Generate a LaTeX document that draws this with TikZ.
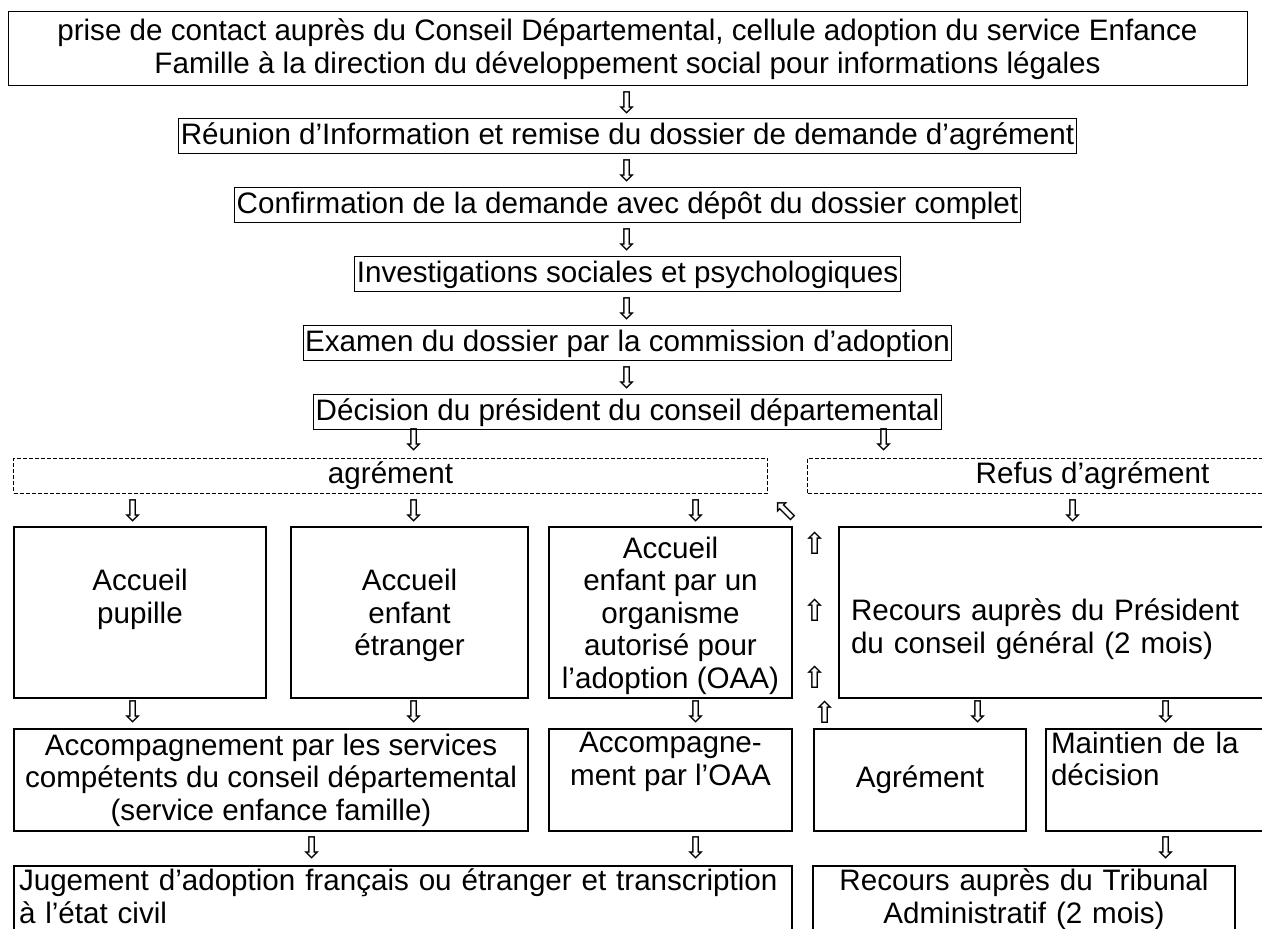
\documentclass[tikz,border=0pt]{standalone}
\usepackage{fontspec}
\setmainfont{Liberation Sans}
\newfontfamily\arrowfont{DejaVu Sans}
\usetikzlibrary{positioning,calc}

\tikzset{
    stage/.style={draw, line width=0.5pt, align=center, inner xsep=1pt, inner ysep=0pt, minimum height=17.5pt},
    cell/.style={draw, line width=1pt, anchor=north west, inner xsep=3pt, inner ysep=0pt},
    outcome/.style={draw, dashed, dash pattern=on 2pt off 1pt, line width=0.5pt, anchor=north west, minimum height=17.5pt, inner sep=0pt},
    glyph/.style={font=\arrowfont\fontsize{15}{15}\selectfont, inner sep=0pt},
}

\begin{document}
\begin{tikzpicture}[x=0.5pt, y=-0.5pt, font=\fontsize{14.8pt}{16.2pt}\selectfont]
            \useasboundingbox (0,0) rectangle (1262,929);
            \clip (0,0) rectangle (1262,929);

            \node [stage, minimum width=619.5pt, minimum height=37pt] (contact) at (627.5,49) {prise de contact auprès du Conseil Départemental, cellule adoption du service Enfance\\Famille à la direction du développement social pour informations légales};
            \node [stage, below=16pt of contact] (reunion) {Réunion d’Information et remise du dossier de demande d’agrément};
            \node [stage, below=16.5pt of reunion] (confirm) {Confirmation de la demande avec dépôt du dossier complet};
            \node [stage, below=16.5pt of confirm] (enquete) {Investigations sociales et psychologiques};
            \node [stage, below=16.5pt of enquete] (examen) {Examen du dossier par la commission d’adoption};
            \node [stage, below=16.5pt of examen] (decision) {Décision du président du conseil départemental};

            \node [glyph] (d1) at ($(contact.south)!.5!(reunion.north)$) {⇩};
            \node [glyph] (d2) at ($(reunion.south)!.5!(confirm.north)$) {⇩};
            \node [glyph] (d3) at ($(confirm.south)!.5!(enquete.north)$) {⇩};
            \node [glyph] (d4) at ($(enquete.south)!.5!(examen.north)$) {⇩};
            \node [glyph] (d5) at ($(examen.south)!.5!(decision.north)$) {⇩};
            \node [glyph] (d6) at (414,440) {⇩};
            \node [glyph] (d7) at (884,440) {⇩};

            \node [outcome, minimum width=377pt] (agrement) at (13,458) {agrément};
            \node [outcome, minimum width=285pt] (refus) at (807,458) {Refus d’agrément};

            \node [glyph] (e1) at (133,511) {⇩};
            \node [glyph] (e2) at (414,511) {⇩};
            \node [glyph] (e3) at (696,511) {⇩};
            \node [glyph, rotate=45] (e4) at (785,511) {⇧};
            \node [glyph] (e5) at (1073,511) {⇩};

            \node [cell, align=center, text depth=0pt, minimum width=126pt, minimum height=85.5pt] (pupille) at (13,526) {Accueil\\pupille\\\strut};
            \node [cell, align=center, text depth=0pt, minimum width=118.5pt, minimum height=85.5pt] (etranger) at (290,526) {Accueil\\enfant\\étranger};
            \node [cell, align=center, text depth=0pt, minimum width=121.5pt, minimum height=85.5pt] (oaa) at (548,526) {Accueil\\enfant par un\\organisme\\autorisé pour\\l’adoption (OAA)};
            \node [cell, align=left, text width=270pt, inner xsep=6pt, minimum height=85.5pt] (recours) at (838,526) {\strut\\Recours auprès du Président\\du conseil général (2 mois)};

            \node [glyph] (u1) at (815,543) {⇧};
            \node [glyph] (u2) at (815,610) {⇧};
            \node [glyph] (u3) at (815,677) {⇧};

            \node [glyph] (f1) at (133,712) {⇩};
            \node [glyph] (f2) at (414,712) {⇩};
            \node [glyph] (f3) at (696,712) {⇩};
            \node [glyph] (f4) at (825,712) {⇧};
            \node [glyph] (f5) at (978,712) {⇩};
            \node [glyph] (f6) at (1166,712) {⇩};

            \node [cell, align=center, minimum width=257pt, minimum height=51pt] (services) at (13,728) {Accompagnement par les services\\compétents du conseil départemental\\(service enfance famille)};
            \node [cell, align=center, minimum width=121.5pt, minimum height=51pt] (suivi) at (548,728) {Accompagne-\\ment par l’OAA\\\strut};
            \node [cell, align=center, minimum width=106pt, minimum height=51pt] (accord) at (813,728) {Agrément};
            \node [cell, align=left, text width=120pt, inner xsep=2.5pt, minimum height=51pt] (maintien) at (1045,728) {Maintien de la\\décision\\\strut};

            \node [glyph] (g1) at (312,848) {⇩};
            \node [glyph] (g2) at (696,848) {⇩};
            \node [glyph] (g3) at (1166,848) {⇩};

            \node [cell, align=left, text width=384pt, inner xsep=2.5pt, inner ysep=1.5pt, text depth=26pt] (jugement) at (13,865) {Jugement d’adoption français ou étranger et transcription\\à l’état civil};
            \node [cell, align=center, text width=205pt, inner ysep=1.5pt, text depth=26pt] (tribunal) at (812,865) {Recours auprès du Tribunal\\Administratif (2 mois)};
        \end{tikzpicture}
\end{document}
